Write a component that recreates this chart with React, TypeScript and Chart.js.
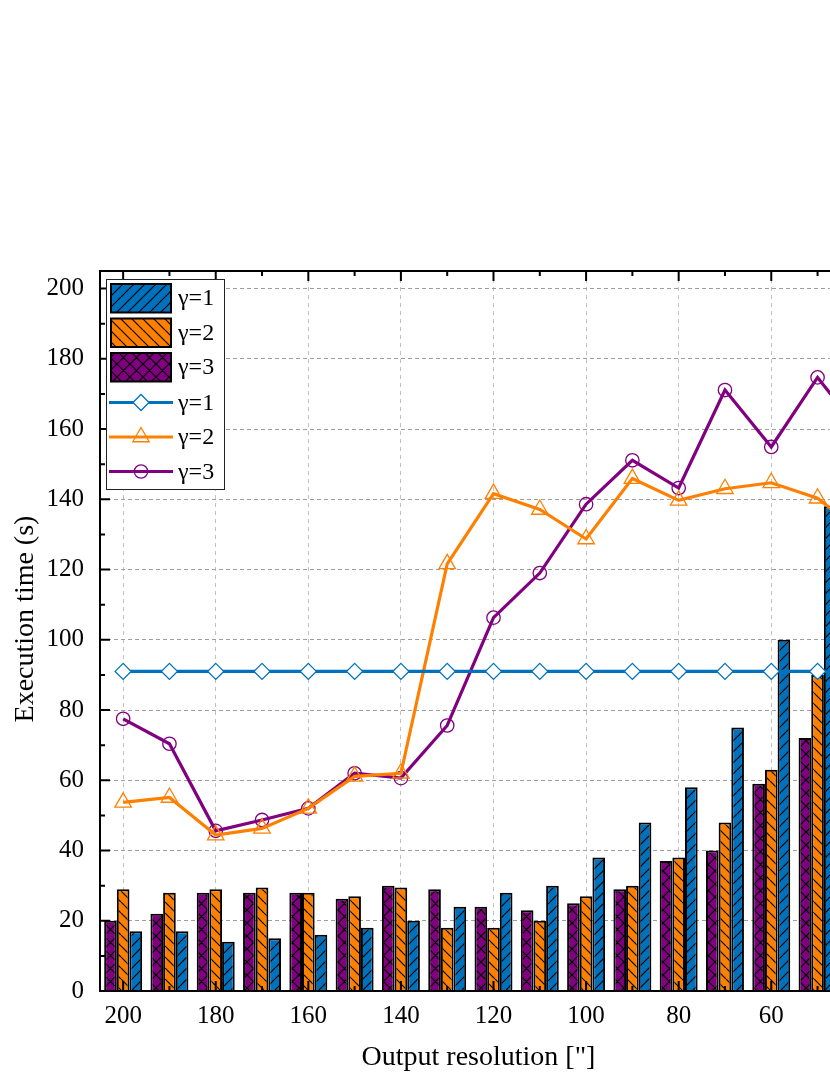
import React, { useEffect, useRef } from 'react';
import { Chart, registerables } from 'chart.js';

Chart.register(...registerables);

// ---- data ----
const categories = ['200', '190', '180', '170', '160', '150', '140', '130', '120', '110', '100', '90', '80', '70', '60', '50', '40'];
const barGamma1 = [17, 17, 14, 15, 16, 18, 20, 24, 28, 30, 38, 48, 58, 75, 100, 138, null];
const barGamma2 = [29, 28, 29, 29.5, 28, 27, 29.5, 18, 18, 20, 27, 30, 38, 48, 63, 90, null];
const barGamma3 = [20, 22, 28, 28, 28, 26.3, 30, 29, 24, 23, 25, 29, 37, 40, 59, 72, null];
const lineGamma1 = [91, 91, 91, 91, 91, 91, 91, 91, 91, 91, 91, 91, 91, 91, 91, 91, 91];
const lineGamma2 = [53.7, 55.1, 44.4, 46.3, 52, 61.1, 62, 121.6, 141.6, 137.1, 128.7, 145.9, 139.7, 143, 144.7, 140.3, 130];
const lineGamma3 = [77.5, 70.4, 45.6, 48.7, 52, 62, 60.6, 75.6, 106.3, 119, 138.6, 151.1, 143.2, 171.1, 154.9, 174.7, 158];
const seriesLabels = ['γ=1', 'γ=2', 'γ=3'];
const yTickValues = [0, 20, 40, 60, 80, 100, 120, 140, 160, 180, 200];
const yMin = 0;
const yMax = 205;
const yMinorStep = 10;

const BLUE = '#0072BD';
const ORANGE = '#FF8000';
const PURPLE = '#800080';
const FONT = "'Liberation Serif', 'Times New Roman', serif";

function makePattern(color: string, kind: 'fwd' | 'back' | 'cross', size: number): CanvasPattern | string {
  const c = document.createElement('canvas');
  c.width = size;
  c.height = size;
  const g = c.getContext('2d');
  if (!g) return color;
  g.fillStyle = color;
  g.fillRect(0, 0, size, size);
  g.strokeStyle = '#000';
  g.lineWidth = 1.2;
  g.beginPath();
  if (kind === 'fwd' || kind === 'cross') {
    for (let k = -1; k <= 1; k++) {
      g.moveTo(k * size, size);
      g.lineTo(k * size + size, 0);
    }
  }
  if (kind === 'back' || kind === 'cross') {
    for (let k = -1; k <= 1; k++) {
      g.moveTo(k * size, 0);
      g.lineTo(k * size + size, size);
    }
  }
  g.stroke();
  const p = g.createPattern(c, 'repeat');
  return p || color;
}

function drawMarker(ctx: CanvasRenderingContext2D, style: string, x: number, y: number, r: number, fill: string | null, stroke: string, lw: number) {
  ctx.beginPath();
  if (style === 'rectRot') {
    ctx.moveTo(x - r, y);
    ctx.lineTo(x, y - r);
    ctx.lineTo(x + r, y);
    ctx.lineTo(x, y + r);
    ctx.closePath();
  } else if (style === 'triangle') {
    ctx.moveTo(x, y - r);
    ctx.lineTo(x + 0.866 * r, y + 0.5 * r);
    ctx.lineTo(x - 0.866 * r, y + 0.5 * r);
    ctx.closePath();
  } else {
    ctx.arc(x, y, r, 0, Math.PI * 2);
  }
  if (fill) {
    ctx.fillStyle = fill;
    ctx.fill();
  }
  ctx.strokeStyle = stroke;
  ctx.lineWidth = lw;
  ctx.stroke();
}

const frameTicksPlugin = {
  id: 'frameTicks',
  afterDatasetsDraw(chart: any) {
    const { ctx, chartArea: a, scales } = chart;
    const xs = scales.x;
    const ys = scales.y;
    ctx.save();
    ctx.strokeStyle = '#000';
    ctx.lineWidth = 2;
    ctx.strokeRect(a.left, a.top, a.right - a.left, a.bottom - a.top);
    ctx.beginPath();
    for (let v = yMin; v <= yMax; v += yMinorStep) {
      const py = ys.getPixelForValue(v);
      const len = yTickValues.includes(v) ? 10 : 5;
      ctx.moveTo(a.left, py);
      ctx.lineTo(a.left + len, py);
      ctx.moveTo(a.right, py);
      ctx.lineTo(a.right - len, py);
    }
    for (let i = 0; i < categories.length; i++) {
      const px = xs.getPixelForValue(i);
      const len = i % 2 === 0 ? 10 : 5;
      ctx.moveTo(px, a.bottom);
      ctx.lineTo(px, a.bottom - len);
      ctx.moveTo(px, a.top);
      ctx.lineTo(px, a.top + len);
    }
    ctx.stroke();
    ctx.restore();
  },
};

const legendTitlePlugin = {
  id: 'legendTitle',
  afterDraw(chart: any) {
    const { ctx, chartArea: a } = chart;
    const ds = chart.data.datasets;
    ctx.save();
    const bx = a.left + 6;
    const by = a.top + 8;
    const bw = 118;
    const bh = 210;
    ctx.fillStyle = '#fff';
    ctx.fillRect(bx, by, bw, bh);
    ctx.strokeStyle = '#222';
    ctx.lineWidth = 1;
    ctx.strokeRect(bx + 0.5, by + 0.5, bw, bh);

    ctx.font = `24px ${FONT}`;
    ctx.textBaseline = 'middle';
    ctx.textAlign = 'left';
    const rowH = 34.5;
    [2, 1, 0].forEach((di, k) => {
      const d = ds[di];
      const top = by + 5 + k * rowH;
      ctx.fillStyle = d.backgroundColor;
      ctx.fillRect(bx + 5, top, 60, 28.5);
      ctx.strokeStyle = '#000';
      ctx.lineWidth = 2;
      ctx.strokeRect(bx + 5, top, 60, 28.5);
      ctx.fillStyle = '#000';
      ctx.fillText(d.label, bx + 72, top + 15);
    });
    [3, 4, 5].forEach((di, k) => {
      const d = ds[di];
      const cy = by + 123.5 + k * rowH;
      ctx.strokeStyle = d.borderColor;
      ctx.lineWidth = d.borderWidth;
      ctx.beginPath();
      ctx.moveTo(bx + 3, cy);
      ctx.lineTo(bx + 67, cy);
      ctx.stroke();
      const fill = d.pointBackgroundColor === 'rgba(0,0,0,0)' ? null : d.pointBackgroundColor;
      drawMarker(ctx, d.pointStyle, bx + 35, cy, d.pointRadius, fill, d.pointBorderColor, d.pointBorderWidth);
      ctx.fillStyle = '#000';
      ctx.fillText(d.label, bx + 72, cy + 1);
    });

    ctx.fillStyle = '#000';
    ctx.font = `28px ${FONT}`;
    ctx.textAlign = 'center';
    ctx.textBaseline = 'alphabetic';
    ctx.fillText('Output resolution ["]', 478.5, 1065);
    ctx.save();
    ctx.translate(33, 619);
    ctx.rotate(-Math.PI / 2);
    ctx.fillText('Execution time (s)', 0, 0);
    ctx.restore();
    ctx.restore();
  },
};

export default function App() {
  const ref = useRef<HTMLCanvasElement>(null);

  useEffect(() => {
    const canvas = ref.current;
    if (!canvas) return;
    const pBlue = makePattern(BLUE, 'fwd', 11);
    const pOrange = makePattern(ORANGE, 'back', 11);
    const pPurple = makePattern(PURPLE, 'cross', 13);

    const barCommon = {
      type: 'bar' as const,
      borderColor: '#000',
      borderWidth: 2,
      barPercentage: 1,
      categoryPercentage: 0.82,
      order: 1,
    };
    const lineCommon = {
      type: 'line' as const,
      borderWidth: 3.2,
      tension: 0,
      fill: false,
      pointBorderWidth: 1.3,
      order: 0,
    };

    const chart = new Chart(canvas, {
      type: 'bar',
      data: {
        labels: categories,
        datasets: [
          { ...barCommon, label: seriesLabels[2], data: barGamma3, backgroundColor: pPurple },
          { ...barCommon, label: seriesLabels[1], data: barGamma2, backgroundColor: pOrange },
          { ...barCommon, label: seriesLabels[0], data: barGamma1, backgroundColor: pBlue },
          {
            ...lineCommon, label: seriesLabels[0], data: lineGamma1, borderColor: BLUE,
            pointStyle: 'rectRot', pointRadius: 8, pointBackgroundColor: '#fff', pointBorderColor: BLUE,
          },
          {
            ...lineCommon, label: seriesLabels[1], data: lineGamma2, borderColor: ORANGE,
            pointStyle: 'triangle', pointRadius: 9.5, pointBackgroundColor: 'rgba(0,0,0,0)', pointBorderColor: ORANGE,
          },
          {
            ...lineCommon, label: seriesLabels[2], data: lineGamma3, borderColor: PURPLE,
            pointStyle: 'circle', pointRadius: 6.7, pointBackgroundColor: 'rgba(0,0,0,0)', pointBorderColor: PURPLE,
          },
        ] as any,
      },
      options: {
        animation: false,
        responsive: true,
        maintainAspectRatio: false,
        layout: { padding: { left: 0, top: 271, right: 33, bottom: 0 } },
        plugins: {
          legend: { display: false },
          tooltip: { enabled: false },
          title: { display: false },
        },
        scales: {
          x: {
            type: 'category',
            offset: true,
            afterFit: (s: any) => { s.height = 84; },
            grid: {
              offset: false,
              drawTicks: false,
              lineWidth: 1,
              color: (c: any) => (c.index % 2 === 0 ? '#c2c2c2' : 'rgba(0,0,0,0)'),
            },
            border: { display: false, dash: [4, 4] },
            ticks: {
              autoSkip: false,
              maxRotation: 0,
              padding: 10,
              color: '#000',
              font: { family: FONT, size: 25 },
              callback: (_v: any, i: number) => (i % 2 === 0 ? categories[i] : ''),
            },
          },
          y: {
            min: yMin,
            max: yMax,
            afterFit: (s: any) => { s.width = 100; },
            afterBuildTicks: (s: any) => { s.ticks = yTickValues.map((v) => ({ value: v })); },
            grid: { drawTicks: false, lineWidth: 1, color: '#9e9e9e' },
            border: { display: false, dash: [4, 3] },
            ticks: {
              padding: 16,
              color: '#000',
              font: { family: FONT, size: 25 },
            },
          },
        },
      },
      plugins: [frameTicksPlugin, legendTitlePlugin],
    });
    return () => chart.destroy();
  }, []);

  return (
    <div style={{ position: 'fixed', left: 0, top: 0, width: 830, height: 1075, overflow: 'hidden', background: '#fff' }}>
      <div style={{ position: 'relative', width: 920, height: 1075 }}>
        <canvas ref={ref} />
      </div>
    </div>
  );
}
